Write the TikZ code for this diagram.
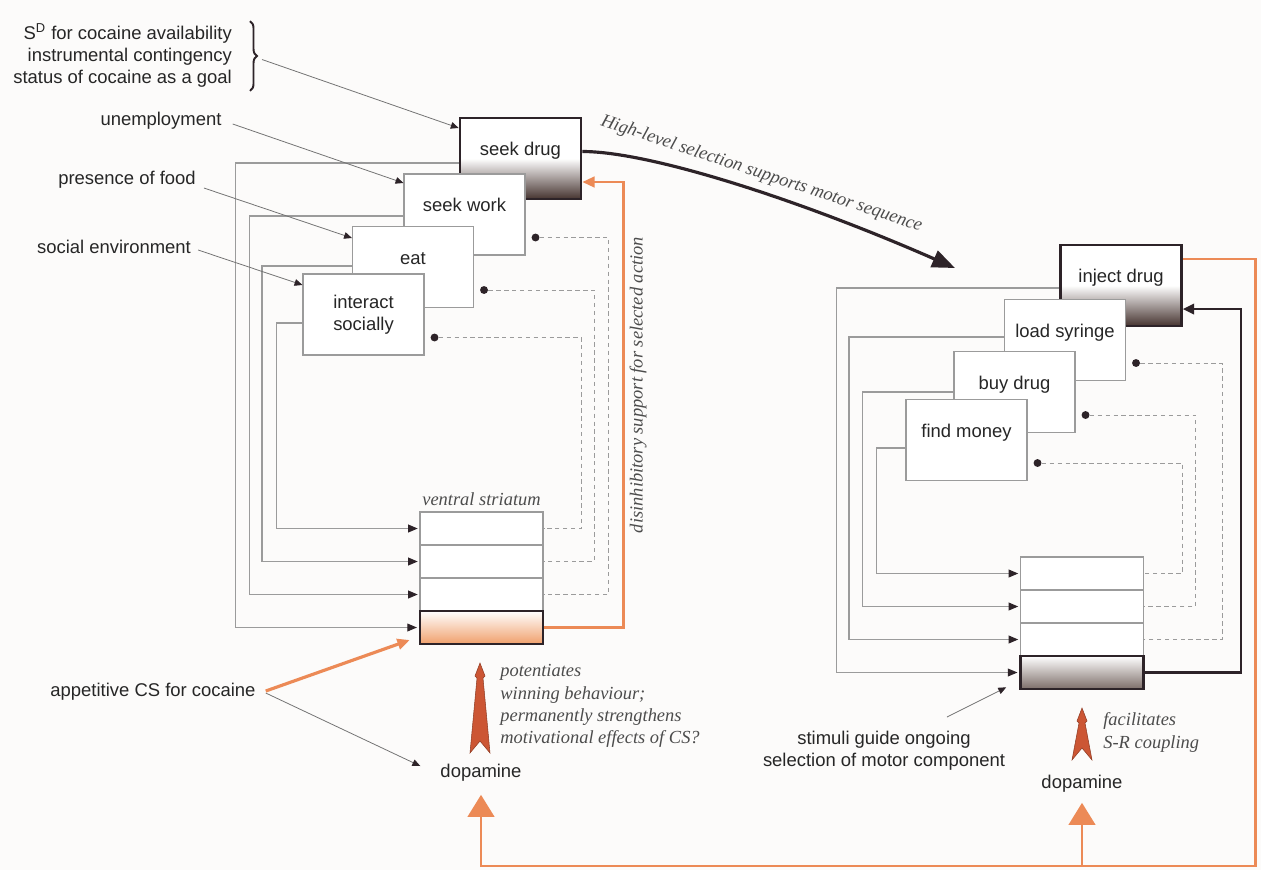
\documentclass[tikz,border=0pt]{standalone}
\usepackage{fontspec}
\setmainfont{Liberation Sans}
\newfontfamily\notefont{Liberation Serif}
\usetikzlibrary{arrows.meta,calc,positioning,decorations.pathreplacing}
\definecolor{cocorange}{RGB}{236,138,86}
\definecolor{spearred}{RGB}{204,86,52}
\definecolor{darkline}{RGB}{45,35,40}
\definecolor{boxgray}{RGB}{155,155,155}
\definecolor{bgpaper}{RGB}{252,251,250}
\definecolor{shadebrown}{RGB}{70,52,48}
\definecolor{shadegray}{RGB}{125,110,105}
\definecolor{shadeorange}{RGB}{240,160,108}
\newcommand{\spearhead}[3]{%
  \filldraw[fill=spearred, draw=spearred!70!black, line width=0.3pt]
    (#1,#2) -- ++(5,13) -- ++(-2,2) -- (#1+10,#3) -- (#1,#3-12) -- (#1-10,#3)
    -- (#1-3,#2+15) -- ++(-2,-2) -- cycle;}

\begin{document}
\begin{tikzpicture}[x=0.02cm, y=-0.02cm,
    txt/.style={font=\fontsize{10.5}{12.7}\selectfont, text=black!85},
    note/.style={font=\notefont\itshape\fontsize{10.5}{12.6}\selectfont, text=black!70},
    actbox/.style={draw=boxgray, line width=0.6pt, fill=white, minimum width=2.42cm, minimum height=1.62cm, txt, align=center},
    lift/.style={text height=8pt, text depth=11pt},
    goalbox/.style={actbox, draw=darkline, line width=1.5pt, top color=white, bottom color=shadebrown, middle color=white},
    row/.style={draw=boxgray, line width=0.6pt, fill=white, minimum width=2.46cm, minimum height=0.66cm, inner sep=0pt},
    thickrow/.style={row, draw=darkline, line width=1.5pt, top color=white},
    feed/.style={draw=boxgray, line width=0.6pt, shorten >=1pt, -{Triangle[length=5.5pt,width=4.5pt,color=darkline]}},
    cue/.style={draw=black!55, line width=0.45pt, -{Triangle[length=4.5pt,width=3.8pt,color=darkline]}},
    inhib/.style={draw=boxgray, line width=0.5pt, dash pattern=on 2.5pt off 2pt},
    knob/.style={circle, fill=darkline, inner sep=0pt, minimum size=4.5pt},
    orangeline/.style={draw=cocorange, line width=1.6pt},
    darkfb/.style={draw=darkline, line width=1.3pt, -{Triangle[length=6.5pt,width=6pt]}}]
  \fill[bgpaper] (0,0) rectangle (1261,870);
  \useasboundingbox (0,0) rectangle (1261,870);

  \foreach \i/\y in {1/528.5,2/561.5,3/594.5}
    \node[row] (ls\i) at (481.5,\y) {};
  \node[thickrow, bottom color=shadeorange] (ls4) at (481.5,627.5) {};
  \foreach \i/\y in {1/573.5,2/606.5,3/639.5}
    \node[row] (rs\i) at (1082,\y) {};
  \node[thickrow, bottom color=shadegray] (rs4) at (1082,672.5) {};
  \node[note, above=0pt of ls1] (vslab) {ventral striatum};

  \node[goalbox, lift] (sd) at (520.5,158.5) {seek drug};
  \node[actbox, lift] (sw) at (464.5,214.5) {seek work};
  \node[actbox, lift] (eat) at (413,267) {eat};
  \node[actbox] (is) at (363.5,314.5) {interact\\socially};
  \node[goalbox, lift] (inj) at (1121,285.5) {inject drug};
  \node[actbox, lift] (lsy) at (1065,340) {load syringe};
  \node[actbox, lift] (bd) at (1014.5,392) {buy drug};
  \node[actbox, lift] (fm) at (966.5,440) {find money};

  \foreach \src/\dy/\dx/\dst in {sd/4.5/-223/ls4, sw/1.5/-154/ls3, eat/-1/-90/ls2, is/8.5/-26/ls1,
      inj/2.5/-223/rs4, lsy/-3/-155/rs3, bd/0/-91/rs2, fm/8/-29/rs1}
    \draw[feed] ($(\src.west)+(0,\dy)$) -- ++(\dx,0) |- (\dst.west);

  \foreach \src/\len/\dst in {sw/73/ls3, eat/110/ls2, is/147/ls1, lsy/86/rs3, bd/110/rs2, fm/145/rs1} {
    \node[knob] (k\src) at ($(\src.east)+(10,23)$) {};
    \draw[inhib] (k\src) -- ++(\len,0) |- (\dst.east);
  }

  \draw[orangeline, -{Triangle[length=7pt,width=6pt]}] (ls4.east) -- ++(79,0) |- ($(sd.east)+(0,23.5)$);
  \draw[darkfb] (rs4.east) -- ++(96,0) |- ($(inj.east)+(0,23.5)$);

  \coordinate (motorin) at (955,268);
  \draw[darkline, line width=1.8pt, -{Triangle[length=13pt,width=10pt]}] ($(sd.east)+(0,-7)$)
    .. controls +(68,0) and +(-155,-68) .. (motorin)
    node[pos=0.55, sloped, above=1pt, note] {High-level selection supports motor sequence};
  \node[note, rotate=90] (disinh) at (638,385) {disinhibitory support for selected action};

  \node[txt, align=right, anchor=east] (sdcue) at (238,55.5) {S\textsuperscript{D} for cocaine availability\\instrumental contingency\\status of cocaine as a goal};
  \draw[darkline, line width=1.1pt, decorate, decoration={brace, amplitude=4pt}]
    ($(sdcue.north east)+(12,4)$) -- ($(sdcue.south east)+(12,-3)$);
  \coordinate (bracetip) at ($(sdcue.east)+(24,4)$);
  \draw[cue] (bracetip) -- ($(sd.west)+(0,-30.5)$);

  \node[txt] (unemp) at (161,121) {unemployment};
  \node[txt] (food) at (127,180) {presence of food};
  \node[txt] (social) at (114,247) {social environment};
  \draw[cue] ($(unemp.east)+(5,3)$) -- ($(sw.west)+(0,-31.5)$);
  \draw[cue] ($(food.east)+(2,8)$) -- ($(eat.west)+(0,-29)$);
  \draw[cue] ($(social.east)+(1,3)$) -- ($(is.west)+(0,-29.5)$);

  \node[txt] (appcs) at (153,692) {appetitive CS for cocaine};
  \node[txt] (dl) at (481,773) {dopamine};
  \node[txt] (dr) at (1082,784) {dopamine};
  \draw[orangeline, line width=1.8pt, -{Triangle[length=7pt,width=6pt]}] ($(appcs.east)+(4,-1)$) -- ($(ls4.west)+(-9,12.5)$);
  \draw[cue] ($(appcs.east)+(4,1)$) -- ($(dl.west)+(-14,-7)$);

  \spearhead{480}{663}{753}
  \spearhead{1082}{708}{760}
  \node[note, align=left, anchor=west, inner sep=0pt] (potlab) at (500,706) {potentiates\\winning behaviour;\\permanently strengthens\\motivational effects of CS?};
  \node[note, align=left, anchor=west, inner sep=0pt] (faclab) at (1103,732.5) {facilitates\\S-R coupling};

  \node[txt, align=center] (stim) at (884,751) {stimuli guide ongoing\\selection of motor component};
  \draw[cue] ($(stim.north)+(63,-8)$) -- ($(rs4.south west)+(-13,-3)$);

  \coordinate (loopbase) at (0,866);
  \draw[orangeline, -{Triangle[length=12.5pt,width=15pt]}] ($(inj.east)+(0,-26.5)$) -- ++(73,0) |- (dl |- loopbase) -- ($(dl.south)+(0,7)$);
  \draw[orangeline, -{Triangle[length=12.5pt,width=15pt]}] (dr |- loopbase) -- ($(dr.south)+(0,4)$);
\end{tikzpicture}
\end{document}
